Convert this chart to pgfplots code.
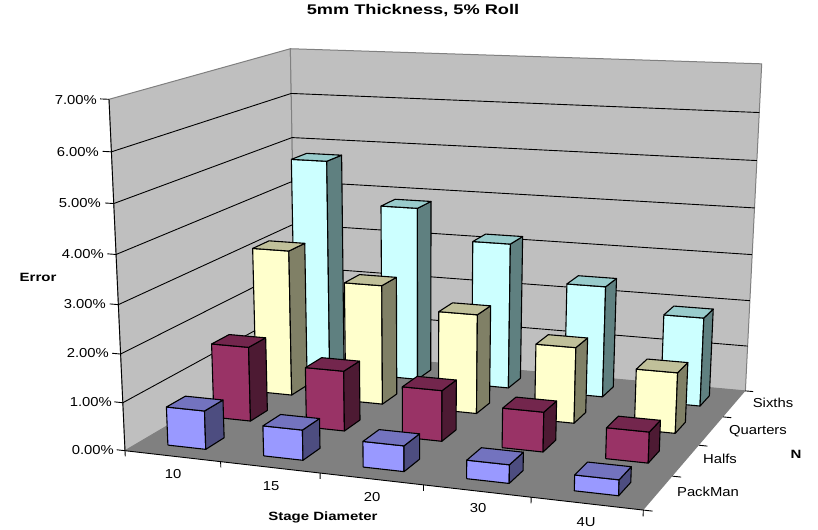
\documentclass[border=0pt]{standalone}
\usepackage{fontspec}
\setmainfont{Liberation Sans}
\usepackage{pgfplots}
\pgfplotsset{compat=1.18}
% projective view of (g = category, d = depth row, v = percent) onto the picture
\newcommand\PW{(1-0.019*\thisrow{g}+0.04375*\thisrow{d}-0.00736*\thisrow{v})}
\newcommand\PX{(125+91.44*\thisrow{g}+55.7*\thisrow{d}-3.086*\thisrow{v})/\PW}
\newcommand\PY{(450.7+2.18*\thisrow{g}-9.8625*\thisrow{d}-50.93*\thisrow{v})/\PW}
\newcommand\poly[2]{\addplot[#1] table[row sep=\\, x expr=\PX, y expr=\PY] {g d v\\ #2};}
\newcommand\onebar[4]{%
  \pgfmathsetmacro\ga{#1+0.3}\pgfmathsetmacro\gb{#1+0.7}%
  \pgfmathsetmacro\da{#2+0.3}\pgfmathsetmacro\db{#2+0.7}%
  \edef\tmp{%
    \noexpand\poly{fill=#4F,draw=black,line width=1.1pt,line join=round}{\ga\space\da\space 0\noexpand\\ \gb\space\da\space 0\noexpand\\ \gb\space\da\space #3\noexpand\\ \ga\space\da\space #3\noexpand\\ \ga\space\da\space 0\noexpand\\}%
    \noexpand\poly{fill=#4S,draw=black,line width=1.1pt,line join=round}{\gb\space\da\space 0\noexpand\\ \gb\space\db\space 0\noexpand\\ \gb\space\db\space #3\noexpand\\ \gb\space\da\space #3\noexpand\\ \gb\space\da\space 0\noexpand\\}%
    \noexpand\poly{fill=#4T,draw=black,line width=1.1pt,line join=round}{\ga\space\da\space #3\noexpand\\ \gb\space\da\space #3\noexpand\\ \gb\space\db\space #3\noexpand\\ \ga\space\db\space #3\noexpand\\ \ga\space\da\space #3\noexpand\\}%
  }\tmp}
\definecolor{cyF}{HTML}{CCFFFF}\definecolor{cyS}{HTML}{5F8080}\definecolor{cyT}{HTML}{99CCCC}
\definecolor{yeF}{HTML}{FFFFCC}\definecolor{yeS}{HTML}{808066}\definecolor{yeT}{HTML}{C0C09A}
\definecolor{maF}{HTML}{993366}\definecolor{maS}{HTML}{4D1A33}\definecolor{maT}{HTML}{73264D}
\definecolor{blF}{HTML}{9999FF}\definecolor{blS}{HTML}{4D4D80}\definecolor{blT}{HTML}{7373BF}
\newcommand\lb[1]{\scalebox{1.14}[1]{\fontsize{13}{13}\selectfont #1}}
\newcommand\bl[1]{\scalebox{1.25}[1]{\fontsize{12}{12}\selectfont\bfseries #1}}
\begin{document}
\begin{tikzpicture}
\begin{axis}[hide axis,scale only axis,width=818pt,height=529pt,
  xmin=0,xmax=818,ymin=0,ymax=529,y dir=reverse,no markers,clip=false]
\path (axis cs:0,0) rectangle (axis cs:818,529);
% walls and floor
\poly{fill=black!25,draw=black!50,line width=1pt}{0 0 0\\ 0 4 0\\ 0 4 7\\ 0 0 7\\ 0 0 0\\}
\poly{fill=black!25,draw=black!50,line width=1pt}{0 4 0\\ 5 4 0\\ 5 4 7\\ 0 4 7\\ 0 4 0\\}
\poly{fill=black!50,draw=none}{0 0 0\\ 5 0 0\\ 5 4 0\\ 0 4 0\\ 0 0 0\\}
% grid lines
\poly{black,line width=0.9pt}{0 0 1\\ 0 4 1\\ 5 4 1\\}
\poly{black,line width=0.9pt}{0 0 2\\ 0 4 2\\ 5 4 2\\}
\poly{black,line width=0.9pt}{0 0 3\\ 0 4 3\\ 5 4 3\\}
\poly{black,line width=0.9pt}{0 0 4\\ 0 4 4\\ 5 4 4\\}
\poly{black,line width=0.9pt}{0 0 5\\ 0 4 5\\ 5 4 5\\}
\poly{black,line width=0.9pt}{0 0 6\\ 0 4 6\\ 5 4 6\\}
% axis lines
\poly{black,line width=0.9pt}{0 0 0\\ 0 0 7\\}
\poly{black,line width=0.9pt}{0 0 0\\ 5 0 0\\}
% value ticks
\poly{black,line width=0.9pt}{0 0 0\\ -0.09 0 0\\}
\poly{black,line width=0.9pt}{0 0 1\\ -0.09 0 1\\}
\poly{black,line width=0.9pt}{0 0 2\\ -0.09 0 2\\}
\poly{black,line width=0.9pt}{0 0 3\\ -0.09 0 3\\}
\poly{black,line width=0.9pt}{0 0 4\\ -0.09 0 4\\}
\poly{black,line width=0.9pt}{0 0 5\\ -0.09 0 5\\}
\poly{black,line width=0.9pt}{0 0 6\\ -0.09 0 6\\}
\poly{black,line width=0.9pt}{0 0 7\\ -0.09 0 7\\}
% category ticks
\poly{black,line width=0.9pt}{0 0 0\\ 0 0 -0.12\\}
\poly{black,line width=0.9pt}{1 0 0\\ 1 0 -0.12\\}
\poly{black,line width=0.9pt}{2 0 0\\ 2 0 -0.12\\}
\poly{black,line width=0.9pt}{3 0 0\\ 3 0 -0.12\\}
\poly{black,line width=0.9pt}{4 0 0\\ 4 0 -0.12\\}
\poly{black,line width=0.9pt}{5 0 0\\ 5 0 -0.12\\}
% depth ticks
\poly{black,line width=0.9pt}{5 0 0\\ 5.08 0 0\\}
\poly{black,line width=0.9pt}{5 1 0\\ 5.08 1 0\\}
\poly{black,line width=0.9pt}{5 2 0\\ 5.08 2 0\\}
\poly{black,line width=0.9pt}{5 3 0\\ 5.08 3 0\\}
\poly{black,line width=0.9pt}{5 4 0\\ 5.08 4 0\\}
% Sixths
\onebar{0}{3}{4.77}{cy}\onebar{1}{3}{3.85}{cy}\onebar{2}{3}{3.20}{cy}\onebar{3}{3}{2.42}{cy}\onebar{4}{3}{1.91}{cy}
% Quarters
\onebar{0}{2}{3.19}{ye}\onebar{1}{2}{2.59}{ye}\onebar{2}{2}{2.13}{ye}\onebar{3}{2}{1.61}{ye}\onebar{4}{2}{1.27}{ye}
% Halfs
\onebar{0}{1}{1.59}{ma}\onebar{1}{1}{1.27}{ma}\onebar{2}{1}{1.06}{ma}\onebar{3}{1}{0.82}{ma}\onebar{4}{1}{0.63}{ma}
% PackMan
\onebar{0}{0}{0.80}{bl}\onebar{1}{0}{0.62}{bl}\onebar{2}{0}{0.52}{bl}\onebar{3}{0}{0.37}{bl}\onebar{4}{0}{0.31}{bl}
% text
\node at (axis cs:413,11) {\scalebox{1.3}[1]{\fontsize{14}{14}\selectfont\bfseries 5mm Thickness, 5\% Roll}};
\node[anchor=east,inner sep=0pt] at (axis cs:97,100) {\lb{7.00\%}};
\node[anchor=east,inner sep=0pt] at (axis cs:99,152) {\lb{6.00\%}};
\node[anchor=east,inner sep=0pt] at (axis cs:101,203) {\lb{5.00\%}};
\node[anchor=east,inner sep=0pt] at (axis cs:104,254) {\lb{4.00\%}};
\node[anchor=east,inner sep=0pt] at (axis cs:106,304) {\lb{3.00\%}};
\node[anchor=east,inner sep=0pt] at (axis cs:109,353) {\lb{2.00\%}};
\node[anchor=east,inner sep=0pt] at (axis cs:112,402) {\lb{1.00\%}};
\node[anchor=east,inner sep=0pt] at (axis cs:114,450) {\lb{0.00\%}};
\node at (axis cs:173,474) {\lb{10}};
\node at (axis cs:271,486) {\lb{15}};
\node at (axis cs:372,497) {\lb{20}};
\node at (axis cs:478,508) {\lb{30}};
\node at (axis cs:586,522) {\lb{4U}};
\node at (axis cs:773,403) {\lb{Sixths}};
\node at (axis cs:758,431) {\lb{Quarters}};
\node at (axis cs:720,459) {\lb{Halfs}};
\node at (axis cs:708,492) {\lb{PackMan}};
\node at (axis cs:38,277) {\bl{Error}};
\node at (axis cs:323,517) {\bl{Stage Diameter}};
\node at (axis cs:796,454) {\bl{N}};
\end{axis}
\end{tikzpicture}
\end{document}
